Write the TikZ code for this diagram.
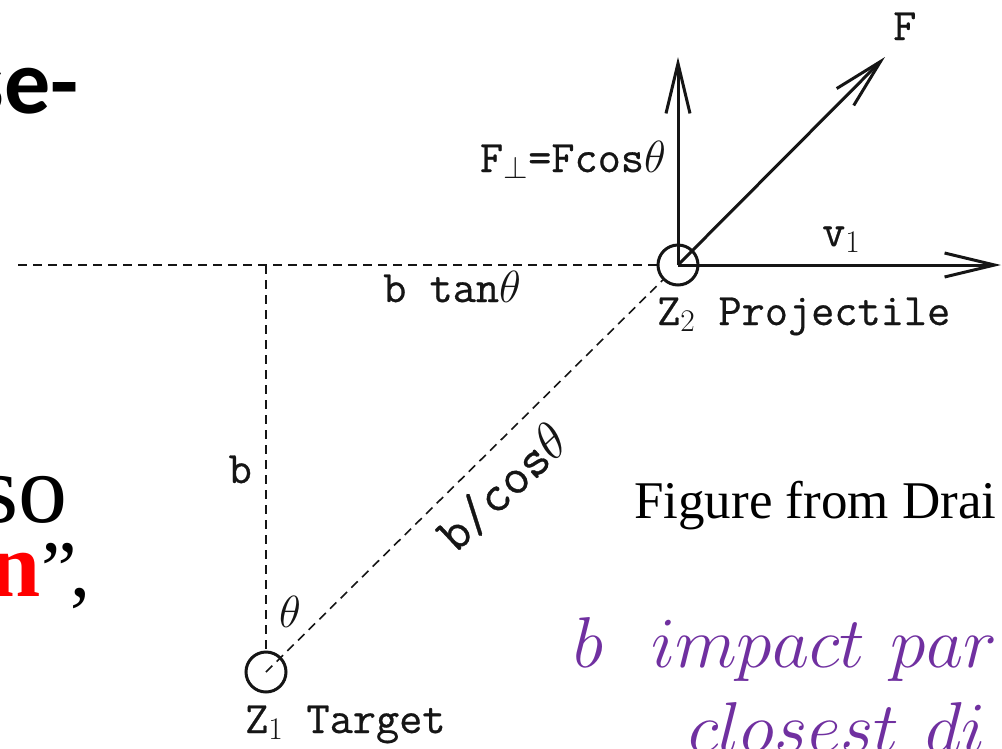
\RequirePackage{fix-cm}
\documentclass[tikz,border=0pt]{standalone}
\usepackage{fontspec}
\usepackage{xcolor}
\usepackage{tikz}
\usetikzlibrary{arrows.meta,positioning}
\definecolor{accent}{HTML}{7030A0}
\definecolor{ink}{HTML}{151515}
\newfontfamily\slidesans{Carlito}
\newfontfamily\slideserif{Liberation Serif}
\newfontfamily\figfont{Latin Modern Mono}[FakeBold=0.6]

\begin{document}
\begin{tikzpicture}[x=1pt,y=-1pt,
    lbl/.style={font=\figfont\fontsize{45}{50}\selectfont,text=ink,inner sep=0pt},
    vec/.style={draw=ink,line width=3pt,-{Straight Barb[length=50pt,width=24pt]}},
    guide/.style={draw=ink,line width=1.6pt,dash pattern=on 9pt off 6pt},
    atom/.style={circle,draw=ink,line width=3pt,minimum size=40pt,inner sep=0pt}]
  \useasboundingbox (0,0) rectangle (1002,748);
  \clip (0,0) rectangle (1002,748);

  % slide text around the figure
  \node[font=\slidesans\bfseries\fontsize{92}{100}\selectfont,anchor=base east,inner sep=0pt] (title) at (79,113) {se-};
  \node[font=\slideserif\fontsize{98}{100}\selectfont,anchor=base east,inner sep=0pt] (so) at (68,522) {so};
  \node[font=\slideserif\bfseries\fontsize{92}{100}\selectfont,text=red,anchor=base east,inner sep=0pt] (term) at (41,596) {n};
  \node[font=\slideserif\fontsize{80}{96}\selectfont,anchor=base west,inner sep=0pt] (quote) at (term.base east) {”\kern-6pt,};
  \node[font=\slideserif\fontsize{53}{60}\selectfont,anchor=base west,inner sep=0pt] (credit) at (634,518) {Figure from Drai};
  \node[font=\fontsize{72}{80}\selectfont,text=accent,anchor=base west,inner sep=0pt] (defb) at (573,667) {$b\hspace{48pt}impact\hspace{26pt}par$};
  \node[font=\fontsize{72}{80}\selectfont,text=accent,anchor=base west,inner sep=0pt] (defd) at (688,752) {$closest\hspace{26pt}di$};

  % the two nuclei
  \node[atom] (Z2) at (678,265) {};
  \node[atom] (Z1) at (266,672) {};
  \coordinate (left) at (18,265);
  \coordinate (foot) at (266,265);
  \coordinate (Fperp) at (678,57);
  \coordinate (Ftip) at (885,57);
  \coordinate (vtip) at (1001,265);

  \draw[guide] (left) -- (Z2);
  \draw[guide] (foot) -- (Z1);
  \draw[guide] (Z1.center) -- (Z2);
  \draw[vec] (Z2.center) -- (Fperp);
  \draw[vec] (Z2.center) -- (Ftip);
  \draw[vec] (Z2.center) -- (vtip);

  % labels
  \node[lbl,anchor=base west] (Flbl) at (893,40) {F};
  \node[lbl,anchor=base east] (Fplbl) at (666,172) {F$_\perp$=Fcos$\theta$};
  \node[lbl,anchor=base west] (vlbl) at (822,246) {v$_1$};
  \node[lbl,anchor=base west] (tanlbl) at (383,302) {b tan$\theta$};
  \node[lbl,anchor=base west] (Z2lbl) at (657,325) {Z$_2$ Projectile};
  \node[lbl,anchor=base east] (blbl) at (252,483) {b};
  \node[lbl,font=\figfont\fontsize{52}{56}\selectfont,rotate=43] (coslbl) at (503,488) {b/cos$\theta$};
  \node[lbl] (thlbl) at (290,612) {$\theta$};
  \node[lbl,anchor=base west] (Z1lbl) at (245,733) {Z$_1$ Target};
\end{tikzpicture}
\end{document}
